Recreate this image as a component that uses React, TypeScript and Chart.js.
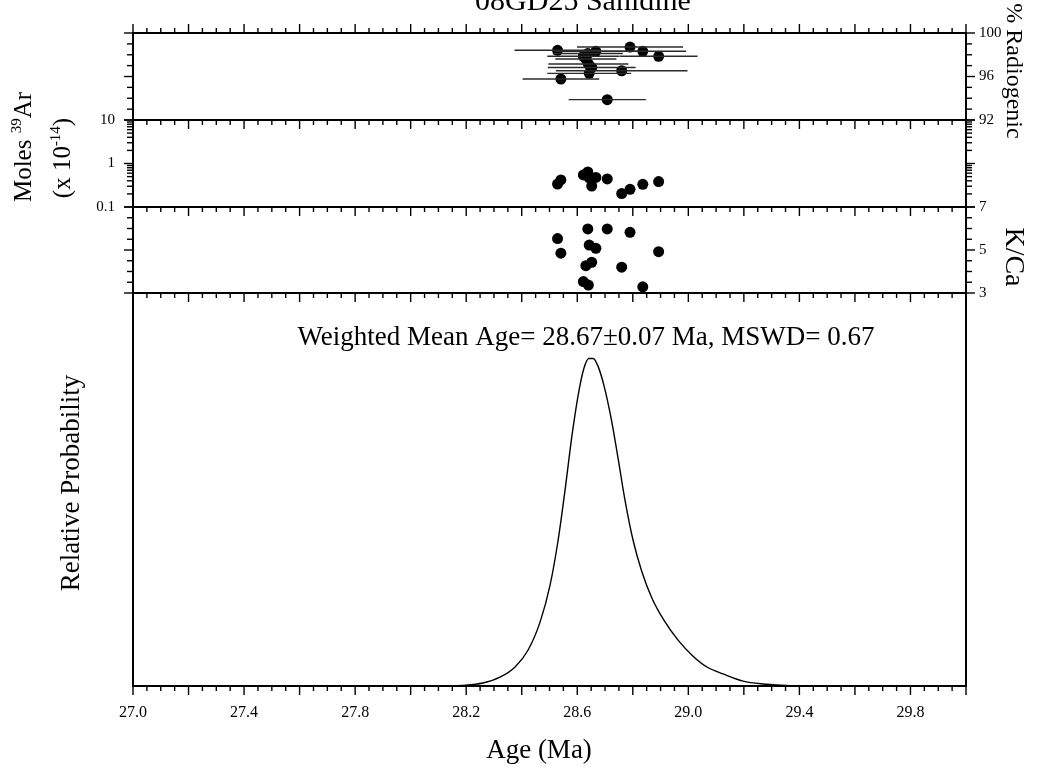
import React, { useEffect, useRef } from 'react';
import { Chart, registerables } from 'chart.js';

Chart.register(...registerables);

// ---------- data ----------
const TITLE = '08GD25 Sanidine';
const MEAN_LABEL = 'Weighted Mean Age= 28.67±0.07 Ma, MSWD= 0.67';

// one entry per crystal
const ages = [28.529, 28.541, 28.622, 28.631, 28.638, 28.640, 28.643, 28.652, 28.667, 28.708, 28.760, 28.790, 28.836, 28.893];
const ageErr = [0.155, 0.138, 0.130, 0.110, 0.126, 0.144, 0.151, 0.158, 0.148, 0.139, 0.237, 0.191, 0.156, 0.140];
const radiogenic = [98.41, 95.77, 97.86, 97.61, 98.11, 97.15, 96.29, 96.83, 98.32, 93.87, 96.53, 98.71, 98.32, 97.86];
const moles39Ar = [0.338, 0.418, 0.545, 0.574, 0.638, 0.516, 0.465, 0.304, 0.477, 0.441, 0.204, 0.255, 0.333, 0.385];
const kca = [5.53, 4.85, 3.53, 4.27, 5.98, 3.37, 5.23, 4.43, 5.08, 5.98, 4.20, 5.82, 3.29, 4.92];

// relative probability curve
const probAge = [27.951, 28.106, 28.185, 28.260, 28.322, 28.376, 28.423, 28.466, 28.502, 28.531, 28.556, 28.581, 28.603, 28.624, 28.642, 28.657, 28.675, 28.696, 28.722, 28.747, 28.772, 28.801, 28.833, 28.869, 28.912, 28.963, 29.017, 29.067, 29.125, 29.197, 29.269, 29.366, 29.568];
const probValue = [0, 0, 0.002, 0.009, 0.027, 0.058, 0.110, 0.195, 0.308, 0.445, 0.598, 0.765, 0.887, 0.970, 1.0, 1.0, 0.976, 0.918, 0.817, 0.695, 0.567, 0.445, 0.348, 0.268, 0.201, 0.140, 0.091, 0.058, 0.037, 0.015, 0.006, 0.001, 0];

// tick labels
const xTickLabels = [27.0, 27.4, 27.8, 28.2, 28.6, 29.0, 29.4, 29.8];
const molesTickLabels = [0.1, 1, 10];
const radTickLabels = [92, 96, 100];
const kcaTickLabels = [3, 5, 7];

// ---------- styling ----------
const FONT = '"Liberation Serif", "Times New Roman", Times, serif';
const xTickFont = { family: FONT, size: 16 };
const yTickFont = { family: FONT, size: 15 };

function drawRich(ctx: CanvasRenderingContext2D, parts: { t: string; sup?: boolean }[], cx: number, cy: number, rot: number, size: number) {
  ctx.save();
  ctx.translate(cx, cy);
  ctx.rotate(rot);
  ctx.fillStyle = '#000';
  ctx.textAlign = 'left';
  ctx.textBaseline = 'alphabetic';
  const main = `${size}px ${FONT}`;
  const sup = `${Math.round(size * 0.6)}px ${FONT}`;
  let total = 0;
  const widths = parts.map((p) => {
    ctx.font = p.sup ? sup : main;
    const w = ctx.measureText(p.t).width;
    total += w;
    return w;
  });
  let x = -total / 2;
  const base = size * 0.33;
  parts.forEach((p, i) => {
    ctx.font = p.sup ? sup : main;
    ctx.fillText(p.t, x, p.sup ? base - size * 0.4 : base);
    x += widths[i];
  });
  ctx.restore();
}

const decorPlugin = {
  id: 'decor',
  afterDraw(chart: any) {
    const { ctx, chartArea, scales } = chart;
    const x = scales.x;
    const L = chartArea.left, R = chartArea.right, T = chartArea.top, B = chartArea.bottom;
    const bounds = [scales.yMol.top, scales.yKca.top, scales.yProb.top];
    const line = (x1: number, y1: number, x2: number, y2: number) => {
      ctx.beginPath();
      ctx.moveTo(x1, y1);
      ctx.lineTo(x2, y2);
      ctx.stroke();
    };
    ctx.save();
    ctx.strokeStyle = '#000';
    ctx.lineCap = 'square';
    ctx.lineWidth = 2;
    ctx.strokeRect(L, T, R - L, B - T);
    bounds.forEach((b: number) => line(L, b, R, b));

    ctx.lineWidth = 1.4;
    ctx.lineCap = 'butt';
    // x ticks every 0.05, major every 0.2
    for (let i = 0; i <= 60; i++) {
      const v = 27 + i * 0.05;
      const len = i % 4 === 0 ? 9 : 5;
      const px = x.getPixelForValue(v);
      line(px, T, px, T - len);
      bounds.forEach((b: number) => line(px, b, px, b + len));
      line(px, B, px, B + len);
    }
    const yTicks = (scale: any, vals: number[], majors: number[]) => {
      vals.forEach((v) => {
        const py = scale.getPixelForValue(v);
        const len = majors.some((m) => Math.abs(m - v) < 1e-9) ? 9 : 6;
        line(L, py, L - len, py);
        line(R, py, R + len, py);
      });
    };
    const radVals: number[] = [];
    for (let v = 92; v <= 100; v += 1) radVals.push(v);
    yTicks(scales.yRad, radVals, radTickLabels);
    const molVals: number[] = [];
    [0.1, 1].forEach((d) => { for (let k = 1; k <= 9; k++) molVals.push(d * k); });
    molVals.push(10);
    yTicks(scales.yMol, molVals, molesTickLabels);
    const kcaVals: number[] = [];
    for (let v = 3; v <= 7.0001; v += 0.5) kcaVals.push(v);
    yTicks(scales.yKca, kcaVals, kcaTickLabels);
    ctx.restore();

    // texts
    drawRich(ctx, [{ t: TITLE }], 583, 9.5 - 30 * 0.33, 0, 30);
    drawRich(ctx, [{ t: MEAN_LABEL }], 586, 345 - 27 * 0.33, 0, 27);
    drawRich(ctx, [{ t: 'Age (Ma)' }], 539, 758 - 27 * 0.33, 0, 27);
    drawRich(ctx, [{ t: 'Moles ' }, { t: '39', sup: true }, { t: 'Ar' }], 23, 147, -Math.PI / 2, 25);
    drawRich(ctx, [{ t: '(x 10' }, { t: '-14', sup: true }, { t: ')' }], 62, 158, -Math.PI / 2, 25);
    drawRich(ctx, [{ t: 'Relative Probability' }], 70, 483, -Math.PI / 2, 27);
    drawRich(ctx, [{ t: '% Radiogenic' }], 1015, 71, Math.PI / 2, 24);
    drawRich(ctx, [{ t: 'K/Ca' }], 1015, 257, Math.PI / 2, 28);
  },
};

const hiddenGrid = { display: false, drawTicks: false };
const noBorder = { display: false };

function yScale(pos: 'left' | 'right', weight: number, stackWeight: number, type: string, min: number, max: number, labels: number[] | null, padding: number) {
  return {
    type,
    position: pos,
    stack: pos === 'left' ? 'L' : 'R',
    stackWeight,
    weight,
    min,
    max,
    grid: hiddenGrid,
    border: noBorder,
    afterBuildTicks: (s: any) => {
      if (labels) s.ticks = labels.map((v) => ({ value: v }));
    },
    ticks: {
      display: !!labels,
      font: yTickFont,
      color: '#000',
      padding,
      autoSkip: false,
      callback: (v: any) => String(v),
    },
    afterFit: (s: any) => {
      s.width = 40;
    },
  };
}

export default function App() {
  const ref = useRef<HTMLCanvasElement>(null);

  useEffect(() => {
    if (!ref.current) return;
    const errorBars = ages.map((a, i) => ({
      type: 'line',
      xAxisID: 'x',
      yAxisID: 'yRad',
      data: [
        { x: a - ageErr[i], y: radiogenic[i] },
        { x: a + ageErr[i], y: radiogenic[i] },
      ],
      borderColor: '#2a2a2a',
      borderWidth: 1.4,
      pointRadius: 0,
    }));
    const dot = { pointRadius: 5.5, backgroundColor: '#000', borderColor: '#000', borderWidth: 0, showLine: false };
    const chart = new Chart(ref.current, {
      type: 'scatter',
      data: {
        datasets: [
          ...errorBars,
          { ...dot, type: 'scatter', xAxisID: 'x', yAxisID: 'yRad', data: ages.map((a, i) => ({ x: a, y: radiogenic[i] })) },
          { ...dot, type: 'scatter', xAxisID: 'x', yAxisID: 'yMol', data: ages.map((a, i) => ({ x: a, y: moles39Ar[i] })) },
          { ...dot, type: 'scatter', xAxisID: 'x', yAxisID: 'yKca', data: ages.map((a, i) => ({ x: a, y: kca[i] })) },
          {
            type: 'line',
            xAxisID: 'x',
            yAxisID: 'yProb',
            data: probAge.map((a, i) => ({ x: a, y: probValue[i] })),
            borderColor: '#000',
            borderWidth: 1.4,
            pointRadius: 0,
            cubicInterpolationMode: 'monotone',
          },
        ] as any,
      },
      options: {
        responsive: false,
        devicePixelRatio: 1,
        animation: false,
        events: [],
        layout: { autoPadding: false, padding: { left: 93, right: 32, top: 33, bottom: 46 } },
        plugins: { legend: { display: false }, tooltip: { enabled: false }, title: { display: false } },
        scales: {
          x: {
            type: 'linear',
            position: 'bottom',
            min: 27,
            max: 30,
            grid: hiddenGrid,
            border: noBorder,
            afterBuildTicks: (s: any) => {
              s.ticks = xTickLabels.map((v) => ({ value: v }));
            },
            ticks: {
              font: xTickFont,
              color: '#000',
              padding: 17,
              maxRotation: 0,
              autoSkip: false,
              callback: (v: any) => Number(v).toFixed(1),
            },
            afterFit: (s: any) => {
              s.height = 40;
            },
          },
          yRad: yScale('left', 4, 87, 'linear', 92, 100, null, 18),
          yMol: yScale('left', 3, 87, 'logarithmic', 0.1, 10, molesTickLabels, 18),
          yKca: yScale('left', 2, 86, 'linear', 3, 7, null, 18),
          yProb: yScale('left', 1, 393, 'linear', 0, 1.2, null, 18),
          yRadR: yScale('right', 1, 87, 'linear', 92, 100, radTickLabels, 13),
          yMolR: yScale('right', 2, 87, 'logarithmic', 0.1, 10, null, 13),
          yKcaR: yScale('right', 3, 86, 'linear', 3, 7, kcaTickLabels, 13),
          yProbR: yScale('right', 4, 393, 'linear', 0, 1.2, null, 13),
        } as any,
      },
      plugins: [decorPlugin],
    } as any);
    return () => chart.destroy();
  }, []);

  return (
    <div style={{ position: 'absolute', left: 0, top: 0, width: 1038, height: 772, background: '#fff' }}>
      <canvas ref={ref} width={1038} height={772} style={{ width: 1038, height: 772, display: 'block' }} />
    </div>
  );
}
